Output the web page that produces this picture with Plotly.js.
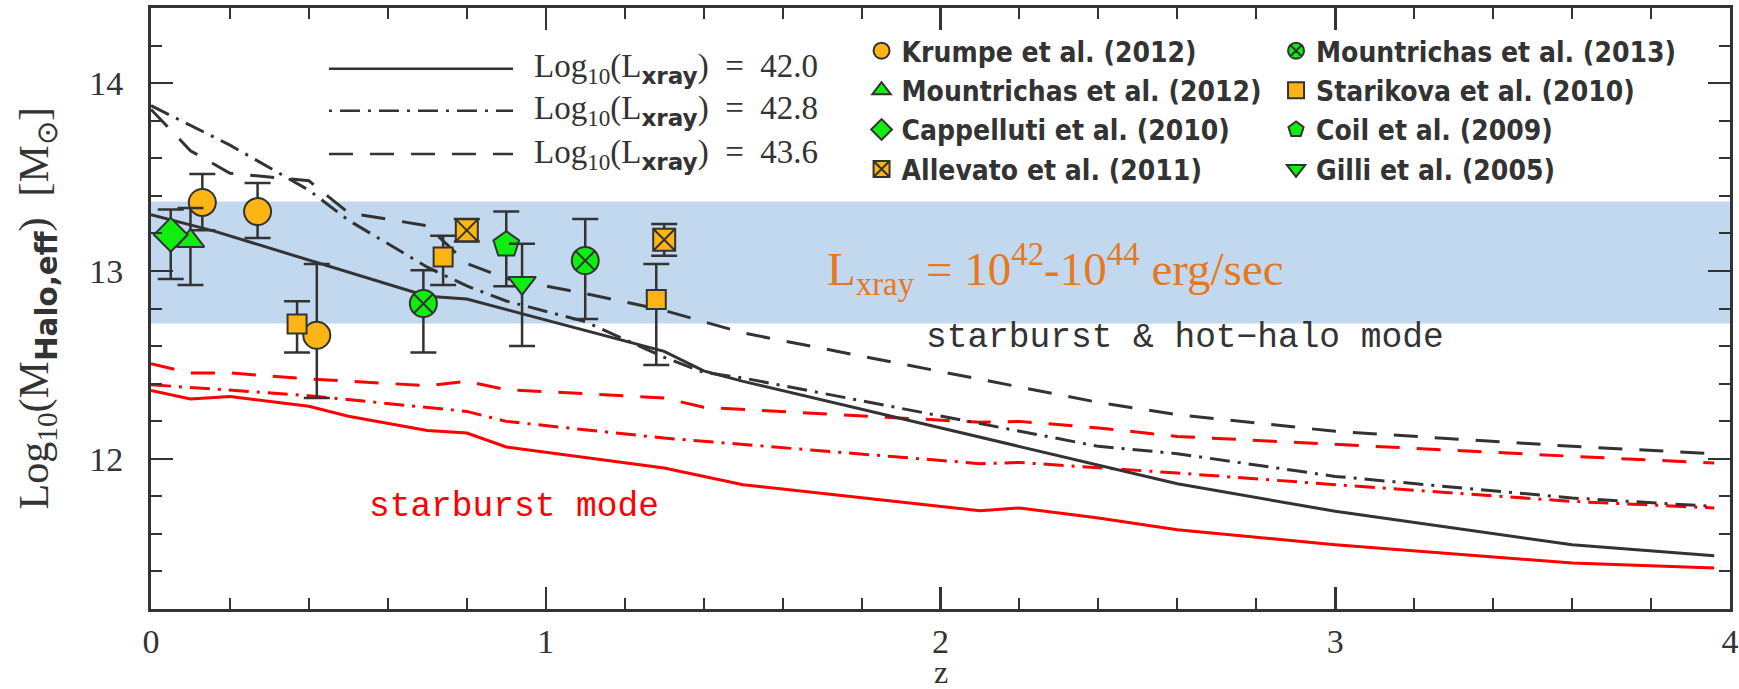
<!DOCTYPE html>
<html>
<head>
<meta charset="utf-8">
<script src="https://cdn.plot.ly/plotly-3.0.1.min.js"></script>
<style>html,body{margin:0;padding:0;background:#fff;}</style>
</head>
<body>
<div id="chart" style="width:1739px;height:689px;"></div>
<script>
// ---------- model curves: Log10(M_halo,eff) vs z ----------
const zBlackSolid = [0, 0.16, 0.7, 0.8, 1.3, 1.4, 1.5, 2.2, 2.4, 2.6, 3.0, 3.6, 3.96];
const mBlackSolid = [13.30, 13.212, 12.865, 12.85, 12.572, 12.468, 12.412, 12.066, 11.968, 11.867, 11.72, 11.542, 11.484];

const zBlackDashDot = [0, 0.2, 0.4, 0.5, 0.7, 0.8, 0.9, 1.1, 1.3, 1.4, 1.5, 2.4, 2.6, 3.0, 3.6, 3.96];
const mBlackDashDot = [13.88, 13.67, 13.43, 13.27, 13.02, 12.92, 12.84, 12.73, 12.54, 12.46, 12.43, 12.066, 12.027, 11.906, 11.791, 11.746];

const zBlackDash = [0, 0.1, 0.2, 0.4, 0.5, 0.7, 0.8, 0.9, 1.1, 1.3, 1.5, 2.4, 2.6, 3.0, 3.6, 3.96];
const mBlackDash = [13.86, 13.64, 13.52, 13.48, 13.31, 13.24, 13.04, 12.96, 12.88, 12.79, 12.67, 12.30, 12.235, 12.146, 12.066, 12.027];

const zRedSolid = [0, 0.1, 0.2, 0.4, 0.5, 0.7, 0.8, 0.9, 1.3, 1.5, 2.1, 2.2, 2.4, 2.6, 3.0, 3.6, 3.96];
const mRedSolid = [12.364, 12.318, 12.332, 12.279, 12.226, 12.15, 12.137, 12.063, 11.951, 11.862, 11.723, 11.738, 11.685, 11.622, 11.542, 11.445, 11.418];

const zRedDashDot = [0, 0.4, 0.8, 0.9, 1.3, 2.1, 2.2, 2.4, 2.6, 3.0, 3.6, 3.96];
const mRedDashDot = [12.394, 12.336, 12.252, 12.199, 12.11, 11.974, 11.98, 11.951, 11.924, 11.862, 11.773, 11.738];

const zRedDash = [0, 0.1, 0.2, 0.4, 0.7, 0.8, 0.9, 1.3, 1.4, 2.1, 2.2, 2.4, 2.6, 3.0, 3.6, 3.96];
const mRedDash = [12.506, 12.457, 12.457, 12.425, 12.389, 12.412, 12.368, 12.324, 12.274, 12.194, 12.199, 12.164, 12.119, 12.075, 12.013, 11.977];

// ---------- shaded L_xray band ----------
const bandZ = [0, 4];
const bandLow = [12.72, 12.72];
const bandHigh = [13.37, 13.37];

// ---------- observations (value, upper bound, lower bound) ----------
const krumpeZ = [0.13, 0.27, 0.42];
const krumpeM = [13.365, 13.316, 12.657];
const krumpeHi = [13.516, 13.468, 13.037];
const krumpeLo = [13.216, 13.175, 12.324];

const mount12Z = [0.10];
const mount12M = [13.16];
const mount12Hi = [13.335];
const mount12Lo = [12.925];

const cappZ = [0.05];
const cappM = [13.193];
const cappHi = [13.327];
const cappLo = [12.957];

const alleZ = [0.80, 1.30];
const alleM = [13.216, 13.166];
const alleHi = [13.277, 13.25];
const alleLo = [13.157, 13.081];

const mount13Z = [0.69, 1.10];
const mount13M = [12.826, 13.055];
const mount13Hi = [13.003, 13.277];
const mount13Lo = [12.566, 12.744];

const stariZ = [0.37, 0.74, 1.28];
const stariM = [12.718, 13.074, 12.848];
const stariHi = [12.838, 13.188, 13.037];
const stariLo = [12.566, 12.925, 12.499];

const coilZ = [0.90];
const coilM = [13.14];
const coilHi = [13.316];
const coilLo = [12.918];

const gilliZ = [0.94];
const gilliM = [12.936];
const gilliHi = [13.145];
const gilliLo = [12.60];

const xTickVals = [0, 1, 2, 3, 4];
const yTickVals = [12, 13, 14];
const lumLabels = ['42.0', '42.8', '43.6'];

// ---------- styling ----------
const DARK = '#333333';
const RED = '#ff0000';
const ORANGE = '#fdb515';
const GREEN = '#10ee10';
const DASHDOT = '20px,8px,3px,8px';
const DASH = '24px,17px';

function curve(z, m, color, dash) {
  return {x: z, y: m, type: 'scatter', mode: 'lines', showlegend: false, hoverinfo: 'skip',
          line: {color: color, width: 3, dash: dash}};
}
function obs(name, z, m, hi, lo, symbol, color, size, legend) {
  return {
    x: z, y: m, name: name, type: 'scatter', mode: 'markers', legend: legend,
    marker: {symbol: symbol, size: size, color: color, line: {color: DARK, width: 2}},
    error_y: {type: 'data', symmetric: false,
              array: hi.map((h, i) => h - m[i]),
              arrayminus: lo.map((l, i) => m[i] - l),
              color: DARK, thickness: 2.5, width: 13}
  };
}

const traces = [
  {x: bandZ, y: bandLow, type: 'scatter', mode: 'lines', line: {width: 0}, showlegend: false, hoverinfo: 'skip'},
  {x: bandZ, y: bandHigh, type: 'scatter', mode: 'lines', line: {width: 0}, fill: 'tonexty',
   fillcolor: '#c2d8ee', showlegend: false, hoverinfo: 'skip'},
  curve(zRedSolid, mRedSolid, RED, 'solid'),
  curve(zRedDashDot, mRedDashDot, RED, DASHDOT),
  curve(zRedDash, mRedDash, RED, DASH),
  curve(zBlackSolid, mBlackSolid, DARK, 'solid'),
  curve(zBlackDashDot, mBlackDashDot, DARK, DASHDOT),
  curve(zBlackDash, mBlackDash, DARK, DASH),
  obs('Krumpe et al. (2012)', krumpeZ, krumpeM, krumpeHi, krumpeLo, 'circle', ORANGE, 27, 'legend'),
  obs('Mountrichas et al. (2012)', mount12Z, mount12M, mount12Hi, mount12Lo, 'triangle-up', GREEN, 24, 'legend'),
  obs('Cappelluti et al. (2010)', cappZ, cappM, cappHi, cappLo, 'diamond', GREEN, 26, 'legend'),
  obs('Allevato et al. (2011)', alleZ, alleM, alleHi, alleLo, 'square-x', ORANGE, 22, 'legend'),
  obs('Mountrichas et al. (2013)', mount13Z, mount13M, mount13Hi, mount13Lo, 'circle-x', GREEN, 27, 'legend2'),
  obs('Starikova et al. (2010)', stariZ, stariM, stariHi, stariLo, 'square', ORANGE, 19, 'legend2'),
  obs('Coil et al. (2009)', coilZ, coilM, coilHi, coilLo, 'pentagon', GREEN, 27, 'legend2'),
  obs('Gilli et al. (2005)', gilliZ, gilliM, gilliHi, gilliLo, 'triangle-down', GREEN, 24, 'legend2')
];

const axisCommon = {
  showline: true, linecolor: DARK, linewidth: 3, mirror: 'ticks',
  ticks: 'inside', tickcolor: DARK, tickwidth: 2.5, ticklen: 22,
  showgrid: false, zeroline: false,
  tickfont: {family: 'Liberation Serif', size: 34, color: DARK},
  minor: {dtick: 0.2, ticks: 'inside', ticklen: 11, tickwidth: 2, tickcolor: DARK, showgrid: false}
};

const legendFont = {family: 'DejaVu Sans Condensed, DejaVu Sans', size: 28, color: DARK, weight: 'bold'};
const legendBase = {bgcolor: 'rgba(0,0,0,0)', borderwidth: 0, font: legendFont, traceorder: 'normal',
                    xanchor: 'left', yanchor: 'top', y: 0.970};

// line-style legend (top left): sample strokes + labels
const legendDash = ['solid', '3px,8px,20px,8px', DASH];
const legendY = [0.899, 0.829, 0.757];
const sub = (t) => `<sub><span style="font-family:'DejaVu Sans';font-weight:bold">${t}</span></sub>`;
const shapes = legendY.map((y, i) => ({
  type: 'line', xref: 'paper', yref: 'paper', x0: 0.1127, x1: 0.2293, y0: y, y1: y,
  line: {color: DARK, width: 2.5, dash: legendDash[i]}
}));
const annotations = legendY.map((y, i) => ({
  xref: 'paper', yref: 'paper', x: 0.241, y: y, xanchor: 'left', yanchor: 'middle', showarrow: false,
  text: `Log<sub>10</sub>(L${sub('xray')})\u00a0\u00a0=\u00a0\u00a0${lumLabels[i]}`,
  font: {family: 'Liberation Serif', size: 33, color: DARK}
}));
annotations.push(
  {xref: 'paper', yref: 'paper', x: 0.573, y: 0.565, xanchor: 'center', yanchor: 'middle', showarrow: false,
   text: 'L<sub>xray</sub> = 10<sup>42</sup>-10<sup>44</sup> erg/sec',
   font: {family: 'Liberation Serif', size: 47, color: '#e8781e'}},
  {xref: 'paper', yref: 'paper', x: 0.655, y: 0.451, xanchor: 'center', yanchor: 'middle', showarrow: false,
   text: 'starburst & hot\u2212halo mode',
   font: {family: 'Liberation Mono', size: 34.5, color: DARK}},
  {xref: 'paper', yref: 'paper', x: 0.2302, y: 0.170, xanchor: 'center', yanchor: 'middle', showarrow: false,
   text: 'starburst mode',
   font: {family: 'Liberation Mono', size: 34.5, color: RED}},
  {xref: 'paper', yref: 'paper', x: -0.0716, y: 0.5, xanchor: 'center', yanchor: 'middle', showarrow: false,
   textangle: -90,
   text: `Log<sub>10</sub>(M${sub('Halo,eff')})\u00a0\u00a0[M<sub>\u2299</sub>]`,
   font: {family: 'Liberation Serif', size: 42, color: DARK}},
  {xref: 'paper', yref: 'paper', x: 0.5, y: -0.104, xanchor: 'center', yanchor: 'middle', showarrow: false,
   text: 'z', font: {family: 'Liberation Serif', size: 32, color: DARK}}
);

const layout = {
  width: 1739, height: 689,
  margin: {l: 151, r: 9, t: 8, b: 80},
  paper_bgcolor: '#ffffff', plot_bgcolor: '#ffffff',
  hovermode: false,
  xaxis: Object.assign({}, axisCommon, {range: [0, 4], tickvals: xTickVals, ticklabelstandoff: 0}),
  yaxis: Object.assign({}, axisCommon, {range: [11.2, 14.4], tickvals: yTickVals, ticklabelstandoff: 18}),
  legend: Object.assign({}, legendBase, {x: 0.450}),
  legend2: Object.assign({}, legendBase, {x: 0.7125}),
  shapes: shapes,
  annotations: annotations
};

Plotly.newPlot('chart', traces, layout, {displayModeBar: false, staticPlot: true});
</script>
</body>
</html>
